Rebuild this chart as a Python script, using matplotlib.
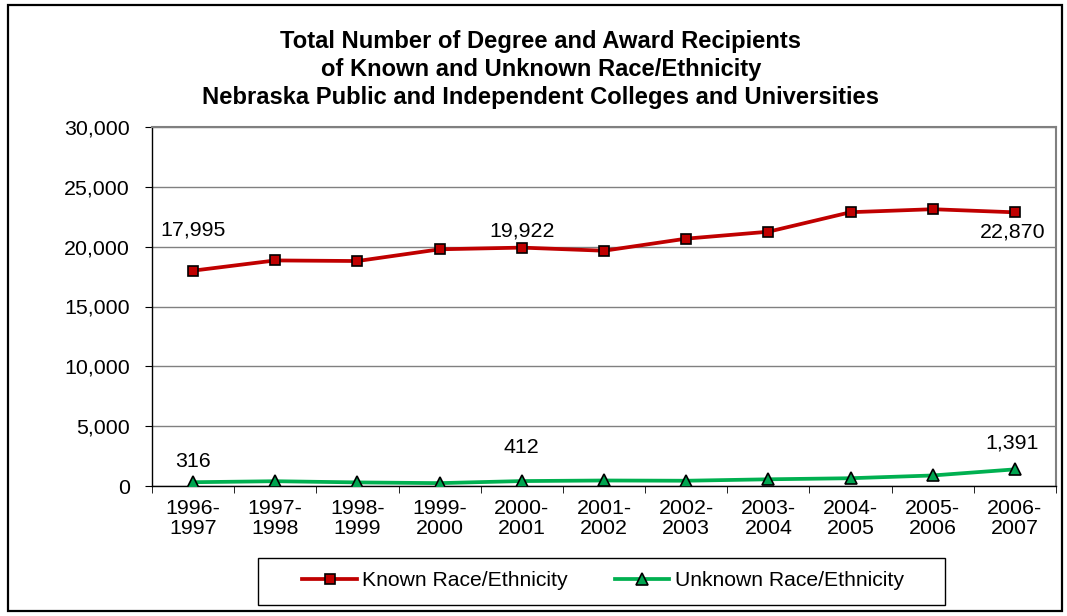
import matplotlib
matplotlib.use("Agg")
import matplotlib.pyplot as plt
from matplotlib.patches import Rectangle
from matplotlib.ticker import FuncFormatter, MultipleLocator

plt.rcParams['font.family'] = ['Liberation Sans', 'DejaVu Sans']

categories = ["1996-\n1997", "1997-\n1998", "1998-\n1999", "1999-\n2000", "2000-\n2001",
              "2001-\n2002", "2002-\n2003", "2003-\n2004", "2004-\n2005", "2005-\n2006",
              "2006-\n2007"]
known = [17995, 18850, 18800, 19780, 19922, 19660, 20670, 21250, 22880, 23130, 22870]
unknown = [316, 400, 300, 240, 412, 460, 440, 560, 650, 880, 1391]
title_lines = ["Total Number of Degree and Award Recipients",
               "of Known and Unknown Race/Ethnicity",
               "Nebraska Public and Independent Colleges and Universities"]

FS = 15.4
W, H = 1067, 616
fig = plt.figure(figsize=(W / 100, H / 100), dpi=100)
fig.patches.append(Rectangle((8 / W, 5 / H), (1062 - 8) / W, (611 - 5) / H,
                             transform=fig.transFigure, fill=False,
                             edgecolor='black', linewidth=1.6, zorder=0))

ax = fig.add_axes([152 / W, 1 - 486 / H, (1056 - 152) / W, (486 - 127) / H])
x = list(range(len(categories)))

ax.plot(x, known, color='#C00000', linewidth=2.7, marker='s', markersize=7.5,
        markerfacecolor='#C00000', markeredgecolor='black', markeredgewidth=1.2,
        label='Known Race/Ethnicity', zorder=3)
ax.plot(x, unknown, color='#00B050', linewidth=2.7, marker='^', markersize=9,
        markerfacecolor='#00A550', markeredgecolor='black', markeredgewidth=1.2,
        label='Unknown Race/Ethnicity', zorder=3)

ax.set_xlim(-0.5, len(categories) - 0.5)
ax.set_ylim(0, 30000)
ax.yaxis.set_major_locator(MultipleLocator(5000))
ax.yaxis.set_major_formatter(FuncFormatter(lambda v, p: f"{int(v):,}"))
ax.grid(axis='y', color='#808080', linewidth=1.0)
ax.set_axisbelow(True)

ax.set_xticks(x)
ax.set_xticklabels(categories, fontsize=FS, linespacing=1.08)
ax.set_xticks([i - 0.5 for i in range(len(categories) + 1)], minor=True)
ax.tick_params(axis='x', which='major', length=0, pad=9)
ax.tick_params(axis='x', which='minor', length=5, direction='out', color='black')
ax.tick_params(axis='y', labelsize=FS, length=5, direction='out', pad=11)

for s in ['top', 'right']:
    ax.spines[s].set_color('#808080')
    ax.spines[s].set_linewidth(1.5)
for s in ['left', 'bottom']:
    ax.spines[s].set_color('black')
    ax.spines[s].set_linewidth(1.0)

def lab(i, vals, dx, dy):
    ax.annotate(f"{vals[i]:,}", xy=(i, vals[i]), xytext=(dx, dy),
                textcoords='offset points', ha='center', va='center', fontsize=FS)

lab(0, known, 0, 29.5)
lab(4, known, 0, 12)
lab(10, known, -1.5, -14)
lab(0, unknown, 0, 15)
lab(4, unknown, 0, 24)
lab(10, unknown, -2, 19)

for yy, t in zip([48, 76, 104], title_lines):
    fig.text(541 / W, 1 - yy / H, t, ha='center', va='baseline',
             fontsize=17.1, fontweight='bold')

fig.patches.append(Rectangle((258 / W, 1 - 605 / H), (945 - 258) / W, (605 - 558) / H,
                             transform=fig.transFigure, fill=False,
                             edgecolor='black', linewidth=1.0, zorder=1))
leg = fig.legend(loc='center', bbox_to_anchor=(603 / W, 1 - 581 / H), ncol=2,
                 fontsize=15.2, frameon=False,
                 handlelength=2.6, columnspacing=2.2, handletextpad=0.25)

fig.savefig("out.png", dpi=100)
